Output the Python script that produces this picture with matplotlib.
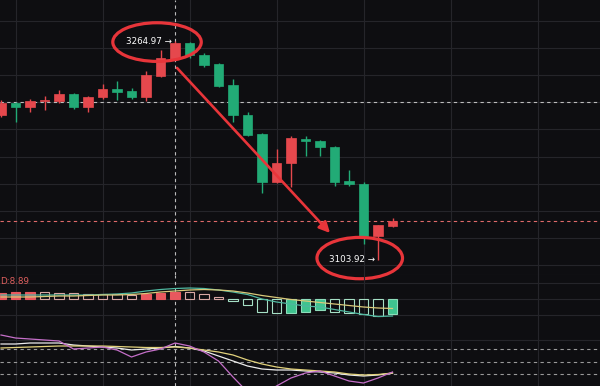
import matplotlib
matplotlib.use("Agg")
import matplotlib.pyplot as plt
from matplotlib.patches import Ellipse, Rectangle
import numpy as np

# ---------------- data ----------------
opens = [3210.6, 3219.5, 3216.5, 3220.9, 3220.9, 3226.1, 3216.5, 3223.9, 3229.8, 3228.3,
         3223.9, 3239.4, 3251.9, 3263.7, 3254.8, 3248.2, 3232.7, 3210.6, 3196.6, 3161.2,
         3175.2, 3192.9, 3191.4, 3187.0, 3161.9, 3159.7, 3121.4, 3128.8]
highs = [3221.7, 3220.2, 3222.4, 3224.6, 3229.0, 3226.8, 3224.6, 3233.5, 3235.7, 3230.5,
         3243.0, 3258.5, 3264.97, 3264.4, 3256.3, 3248.9, 3237.1, 3212.8, 3197.3, 3185.5,
         3195.1, 3195.1, 3192.2, 3187.5, 3170.1, 3161.2, 3129.5, 3134.7]
lows = [3209.1, 3205.4, 3212.8, 3214.3, 3219.5, 3215.0, 3212.8, 3222.4, 3221.7, 3222.4,
        3220.9, 3238.6, 3251.2, 3252.6, 3246.0, 3231.2, 3205.4, 3195.1, 3153.1, 3160.5,
        3157.5, 3180.4, 3180.4, 3158.3, 3158.3, 3115.5, 3103.92, 3128.0]
closes = [3219.5, 3216.5, 3220.9, 3221.7, 3226.1, 3216.5, 3223.9, 3229.8, 3227.6, 3223.9,
          3240.1, 3252.6, 3263.7, 3254.8, 3247.5, 3232.0, 3210.6, 3195.9, 3161.2, 3175.2,
          3193.6, 3191.4, 3187.0, 3161.2, 3159.7, 3121.4, 3129.5, 3132.5]

macd_hist = [3.25, 3.5, 3.75, 3.6, 3.25, 3.0, 2.75, 2.5, 2.35, 2.25,
             2.75, 3.25, 3.75, 3.5, 2.5, 1.25, -1.0, -3.0, -6.5, -7.0,
             -6.75, -6.5, -5.5, -6.5, -7.0, -7.5, -8.5, -7.5]
dif = [2, 2, 2, 2, 2, 2, 2, 2.25, 2.5, 3, 4, 4.75, 5.25, 5.5, 5.25, 4.5, 3.5, 2.25, 0, -1.5,
       -2.5, -3.5, -4, -5.25, -6.5, -7.75, -8.75, -8.5]
dea = [1, 1, 1, 1.25, 1.5, 1.5, 1.75, 2, 2, 2.25, 2.75, 3.5, 4, 4.5, 4.75, 4.5, 4, 3, 1.75, 0.75,
       -0.25, -1, -1.75, -2.5, -3.25, -4, -4.5, -4.75]

k_line = [92, 92, 94.4, 94.4, 94.4, 89.6, 87.2, 84.8, 82.4, 77.6, 80, 82.4, 86, 82.4, 75.2,
          63.2, 51.2, 39.2, 32, 29.6, 29.6, 27.2, 24.8, 22.4, 17.6, 15.2, 17.6, 22.4]
d_line = [82.4, 83.6, 84.8, 86, 87.2, 87.2, 87.2, 87.2, 86, 84.8, 83.6, 83.6, 84.8, 82.4, 77.6,
          72.8, 65.6, 53.6, 44, 36.8, 32, 29.6, 27.2, 24.8, 20, 17.6, 18.8, 22.4]
j_line = [113.6, 106.4, 104, 101.6, 99.2, 80, 82.4, 84.8, 77.6, 60.8, 72.8, 80, 94.4, 87.2, 72.8,
          51.2, 12.8, -23.2, -30.4, -8.8, 10.4, 22.4, 27.2, 15.2, 3.2, -1.6, 10.4, 24.8]
kdj_levels = [80, 50, 20]

high_label = "3264.97 →"
low_label = "3103.92 →"
macd_label = "D:8.89"
crosshair_index = 12
crosshair_price = 3220.2
price_grid = list(range(3100, 3300, 20))
macd_grid = [8, 0, -8]
kdj_grid = [101.6]

# ---------------- style ----------------
BG = "#0e0e11"
GRID = "#25252a"
UP = "#e5484d"
DOWN = "#22ab76"
ANN = "#e8353a"

n = len(opens)
x = np.arange(n)
XLIM = (-0.07, 41.31)
vgrid = np.arange(1, 42, 6)

fig = plt.figure(figsize=(6, 3.86), dpi=100, facecolor=BG)
H = 386.0
ax = fig.add_axes([0, 1 - 275 / H, 1, 275 / H], facecolor=BG)
axm = fig.add_axes([0, 1 - 318 / H, 1, 43 / H], facecolor="none")
axk = fig.add_axes([0, 0, 1, 68 / H], facecolor="none")

for a in (ax, axm, axk):
    a.set_xlim(*XLIM)
    for s in a.spines.values():
        s.set_visible(False)
    a.tick_params(left=False, bottom=False, labelleft=False, labelbottom=False)
    a.set_xticks(vgrid)
    a.grid(True, axis="x", color=GRID, lw=0.8)
    a.set_axisbelow(True)

# ---- main panel
ax.set_ylim(3092.63, 3295.39)
ax.set_yticks(price_grid)
ax.grid(True, axis="y", color=GRID, lw=0.8)
ax.axhline(3092.63 + 0.3, color=GRID, lw=0.8)

bw = 0.68
for i in range(n):
    o, h, l, c = opens[i], highs[i], lows[i], closes[i]
    col = UP if c >= o else DOWN
    ax.vlines(x[i], l, h, color=col, lw=1.0, zorder=2)
    bottom = min(o, c)
    height = max(abs(c - o), 0.8)
    ax.add_patch(Rectangle((x[i] - bw / 2, bottom), bw, height, facecolor=col,
                           edgecolor=col, lw=0.5, zorder=3))

# last price dashed line
ax.axhline(closes[-1], color="#e06a6a", lw=0.8, ls=(0, (3, 3)), zorder=1)
# crosshair
ax.axhline(crosshair_price, color="#bdbdbd", lw=0.8, ls=(0, (3, 3)), zorder=1)
for a in (ax, axm, axk):
    a.axvline(crosshair_index, color="#bdbdbd", lw=0.8, ls=(0, (3, 3)), zorder=1)

# annotations
hi_i = int(np.argmax(highs))
lo_i = int(np.argmin(lows))
ax.text(hi_i - 0.2, highs[hi_i], high_label, color="white", fontsize=6.3,
        ha="right", va="center", zorder=5)
ax.text(lo_i - 0.2, lows[lo_i], low_label, color="white", fontsize=6.3,
        ha="right", va="center", zorder=5)
e1 = Ellipse((hi_i - 1.24, highs[hi_i] - 0.6), 6.1, 28.5, fill=False,
             edgecolor=ANN, lw=2.3, zorder=6)
e2 = Ellipse((lo_i - 1.26, lows[lo_i] + 1.2), 5.9, 30.5, fill=False,
             edgecolor=ANN, lw=2.3, zorder=6)
for e in (e1, e2):
    e.set_clip_on(False)
    ax.add_patch(e)
ax.annotate("", xy=(22.69, 3123.6), xytext=(12.14, 3245.3),
            arrowprops=dict(arrowstyle="-|>", color=ANN, lw=1.9, mutation_scale=16,
                            shrinkA=0, shrinkB=0), zorder=6)

# ---- MACD panel
axm.set_ylim(-9.5, 12)
for g in macd_grid:
    axm.axhline(g, color=GRID, lw=0.8, zorder=0)
for i in range(n):
    v = macd_hist[i]
    filled = i == 0 or v >= macd_hist[i - 1]
    if v >= 0:
        fc = "#e8585e" if filled else "none"
        ec = "#e8585e" if filled else "#d9a8a4"
    else:
        fc = "#3fc38f" if filled else "none"
        ec = "#8ddcba" if filled else "#a6e0c6"
    axm.add_patch(Rectangle((x[i] - 0.32, 0), 0.64, v, facecolor=fc, edgecolor=ec,
                            lw=0.8, zorder=3, clip_on=False))
axm.plot(x, dif, color="#4fb8a0", lw=0.9, zorder=4, clip_on=False)
axm.plot(x, dea, color="#d9c97a", lw=0.9, zorder=4, clip_on=False)
axm.text(0.0, 8.5, macd_label, color="#e0605e", fontsize=6.3, ha="left", va="center",
         transform=axm.get_yaxis_transform())

# ---- KDJ panel
axk.set_ylim(-8.8, 154.4)
for g in kdj_grid:
    axk.axhline(g, color=GRID, lw=0.8, zorder=0)
for lv in kdj_levels:
    axk.axhline(lv, color="#9a9a9a", lw=0.8, ls=(0, (3, 3)), zorder=1)
axk.plot(x, k_line, color="#ececec", lw=0.9, zorder=4)
axk.plot(x, d_line, color="#e2d27c", lw=0.9, zorder=4)
axk.plot(x, j_line, color="#c56fc9", lw=0.9, zorder=4)

fig.savefig("out.png", dpi=100, facecolor=BG)
